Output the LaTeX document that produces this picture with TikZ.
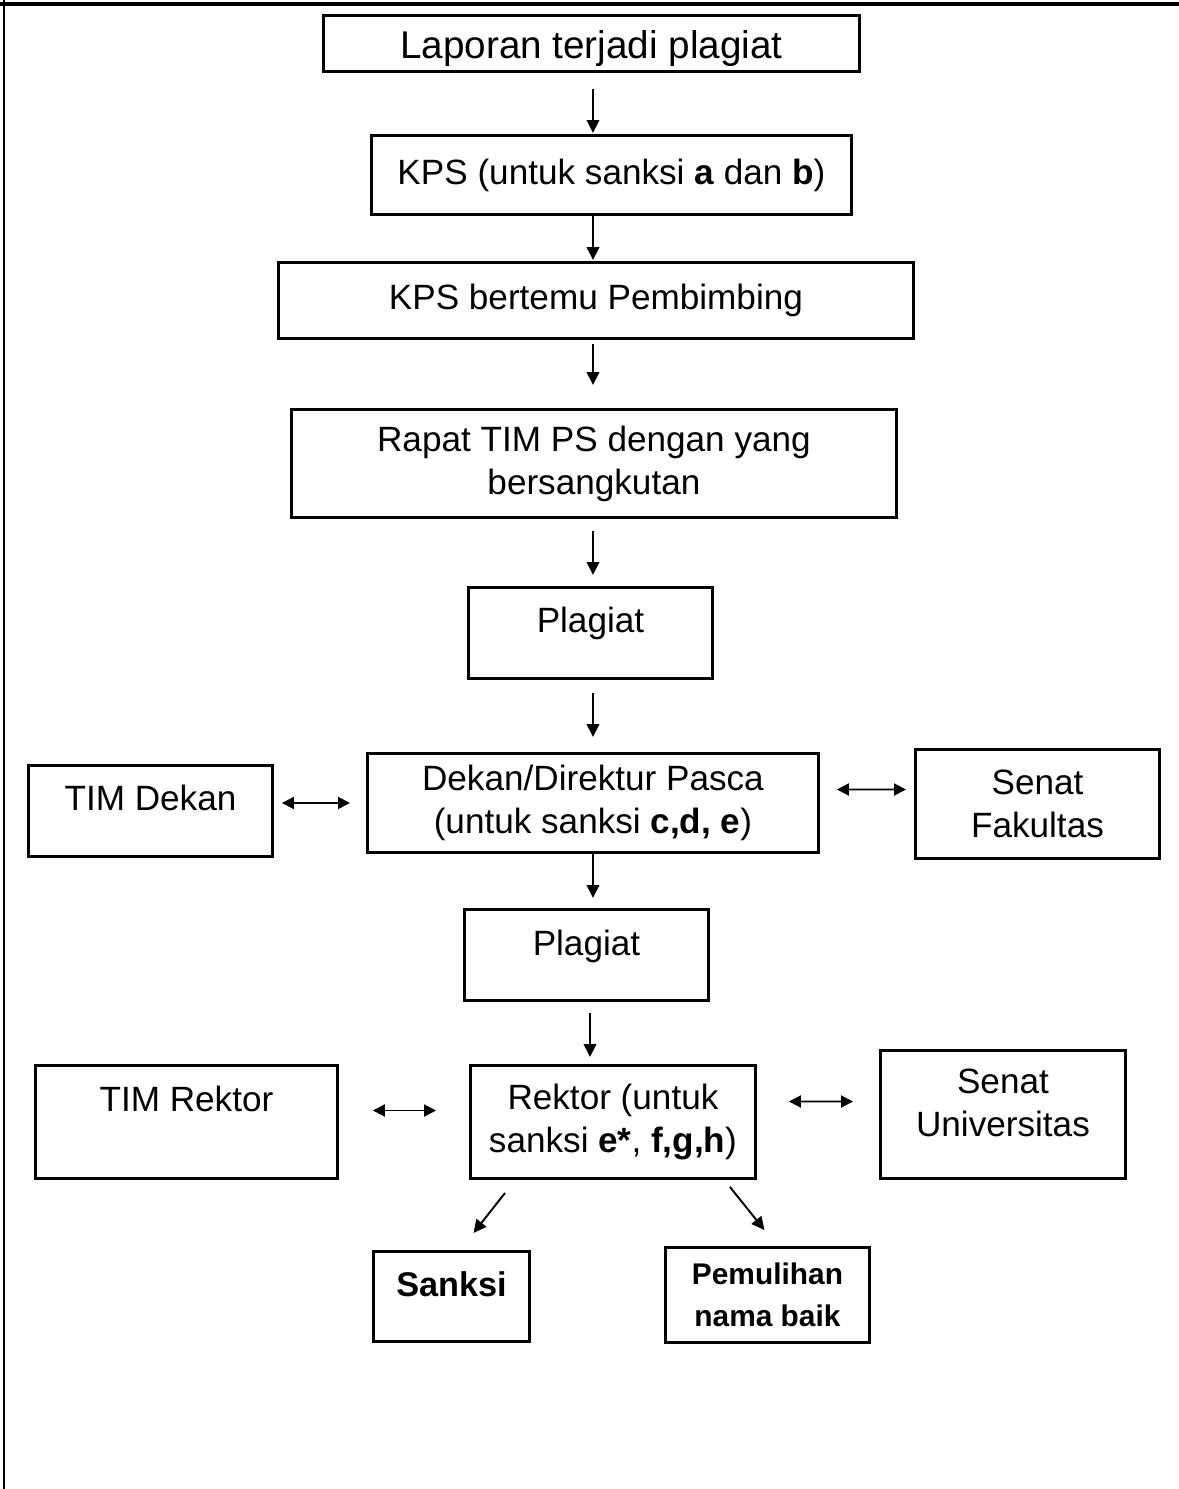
\documentclass[tikz,border=0pt]{standalone}
\usepackage{fontspec}
\setmainfont{Liberation Sans}
\usetikzlibrary{arrows.meta}

\begin{document}
\begin{tikzpicture}[x=0.02cm, y=-0.02cm,
  arr/.style={line width=1.1pt, -{Triangle[length=0.26cm, width=0.25cm]}},
  dbl/.style={line width=1.1pt, {Triangle[length=0.24cm, width=0.24cm]}-{Triangle[length=0.24cm, width=0.24cm]}}]
\useasboundingbox (0,0) rectangle (1179,1489);
\draw[line width=2.2pt] (0,4) -- (1179,4);
\draw[line width=1.2pt] (4,0) -- (4,1489);
\begin{scope}[every node/.style={draw, line width=1.7pt, rectangle, anchor=north west, align=center, inner sep=2pt, font=\fontsize{20}{24.5}\selectfont}]
  \node[minimum width=10.72cm, minimum height=1.12cm, font=\fontsize{22}{26}\selectfont, text height=0.65cm, text depth=0.04cm] (lapor) at (322,14) {Laporan terjadi plagiat};
  \node[minimum width=9.6cm, minimum height=1.58cm] (kps) at (370,134) {KPS (untuk sanksi \textbf{a} dan \textbf{b})};
  \node[minimum width=12.7cm, minimum height=1.52cm] (temu) at (277,261) {KPS bertemu Pembimbing};
  \node[minimum width=12.1cm, minimum height=2.16cm] (rapat) at (290,408) {Rapat TIM PS dengan yang\\bersangkutan};
  \node[minimum width=4.88cm, minimum height=1.82cm, text height=0.5cm, text depth=0.52cm] (plag1) at (467,586) {Plagiat};
  \node[minimum width=9.02cm, minimum height=1.98cm] (dekan) at (366,752) {Dekan/Direktur Pasca\\(untuk sanksi \textbf{c,d, e})};
  \node[minimum width=4.88cm, minimum height=1.82cm, text height=0.5cm, text depth=0.52cm] (timdekan) at (27,764) {TIM Dekan};
  \node[minimum width=4.88cm, minimum height=2.18cm] (senatf) at (914,748) {Senat\\Fakultas};
  \node[minimum width=4.88cm, minimum height=1.82cm, text height=0.5cm, text depth=0.5cm] (plag2) at (463,908) {Plagiat};
  \node[minimum width=5.7cm, minimum height=2.26cm] (rektor) at (469,1064) {Rektor (untuk\\sanksi \textbf{e*}, \textbf{f,g,h})};
  \node[minimum width=6.04cm, minimum height=2.26cm, text height=0.5cm, text depth=0.92cm] (timrektor) at (34,1064) {TIM Rektor};
  \node[minimum width=4.9cm, minimum height=2.56cm, text depth=0.48cm] (senatu) at (879,1049) {Senat\\Universitas};
  \node[minimum width=3.12cm, minimum height=1.8cm, text height=0.5cm, text depth=0.5cm, font=\fontsize{19.5}{23}\selectfont\bfseries] (sanksi) at (372,1250) {Sanksi};
  \node[minimum width=4.08cm, minimum height=1.9cm, font=\fontsize{17}{23.8}\selectfont\bfseries] (pulih) at (664,1246) {Pemulihan\\nama baik};
\end{scope}
\coordinate (axis) at (593,0);
\coordinate (axis2) at (590,0);
\path[arr] (lapor.south -| axis) edge[shorten <=0.32cm, shorten >=0.02cm] (kps.north -| axis);
\path[arr] (kps.south -| axis) edge[shorten >=0.02cm] (temu.north -| axis);
\path[arr] (temu.south -| axis) edge[shorten <=0.08cm, shorten >=0.46cm] (rapat.north -| axis);
\path[arr] (rapat.south -| axis) edge[shorten <=0.24cm, shorten >=0.22cm] (plag1.north -| axis);
\path[arr] (plag1.south -| axis) edge[shorten <=0.26cm, shorten >=0.3cm] (dekan.north -| axis);
\path[arr] (dekan.south -| axis) edge[shorten >=0.2cm] (plag2.north -| axis);
\path[arr] (plag2.south -| axis2) edge[shorten <=0.22cm, shorten >=0.14cm] (rektor.north -| axis2);
\path[dbl] (timdekan.east |- dekan.west) edge[shorten <=0.16cm, shorten >=0.32cm] (dekan.west);
\path[dbl] ([yshift=0.27cm]dekan.east) edge[shorten <=0.34cm, shorten >=0.16cm] ([yshift=0.29cm]senatf.west);
\path[dbl] ([yshift=0.23cm]timrektor.east) edge[shorten <=0.68cm, shorten >=0.66cm] ([yshift=0.23cm]rektor.west);
\path[dbl] ([yshift=0.41cm]rektor.east) edge[shorten <=0.64cm, shorten >=0.52cm] ([yshift=0.26cm]senatu.west);
\path[arr] ([shift={(36,13)}]rektor.south west) edge ([shift={(22,-17)}]sanksi.north);
\path[arr] ([shift={(-27,7)}]rektor.south east) edge ([shift={(-3,-16)}]pulih.north);
\end{tikzpicture}
\end{document}
